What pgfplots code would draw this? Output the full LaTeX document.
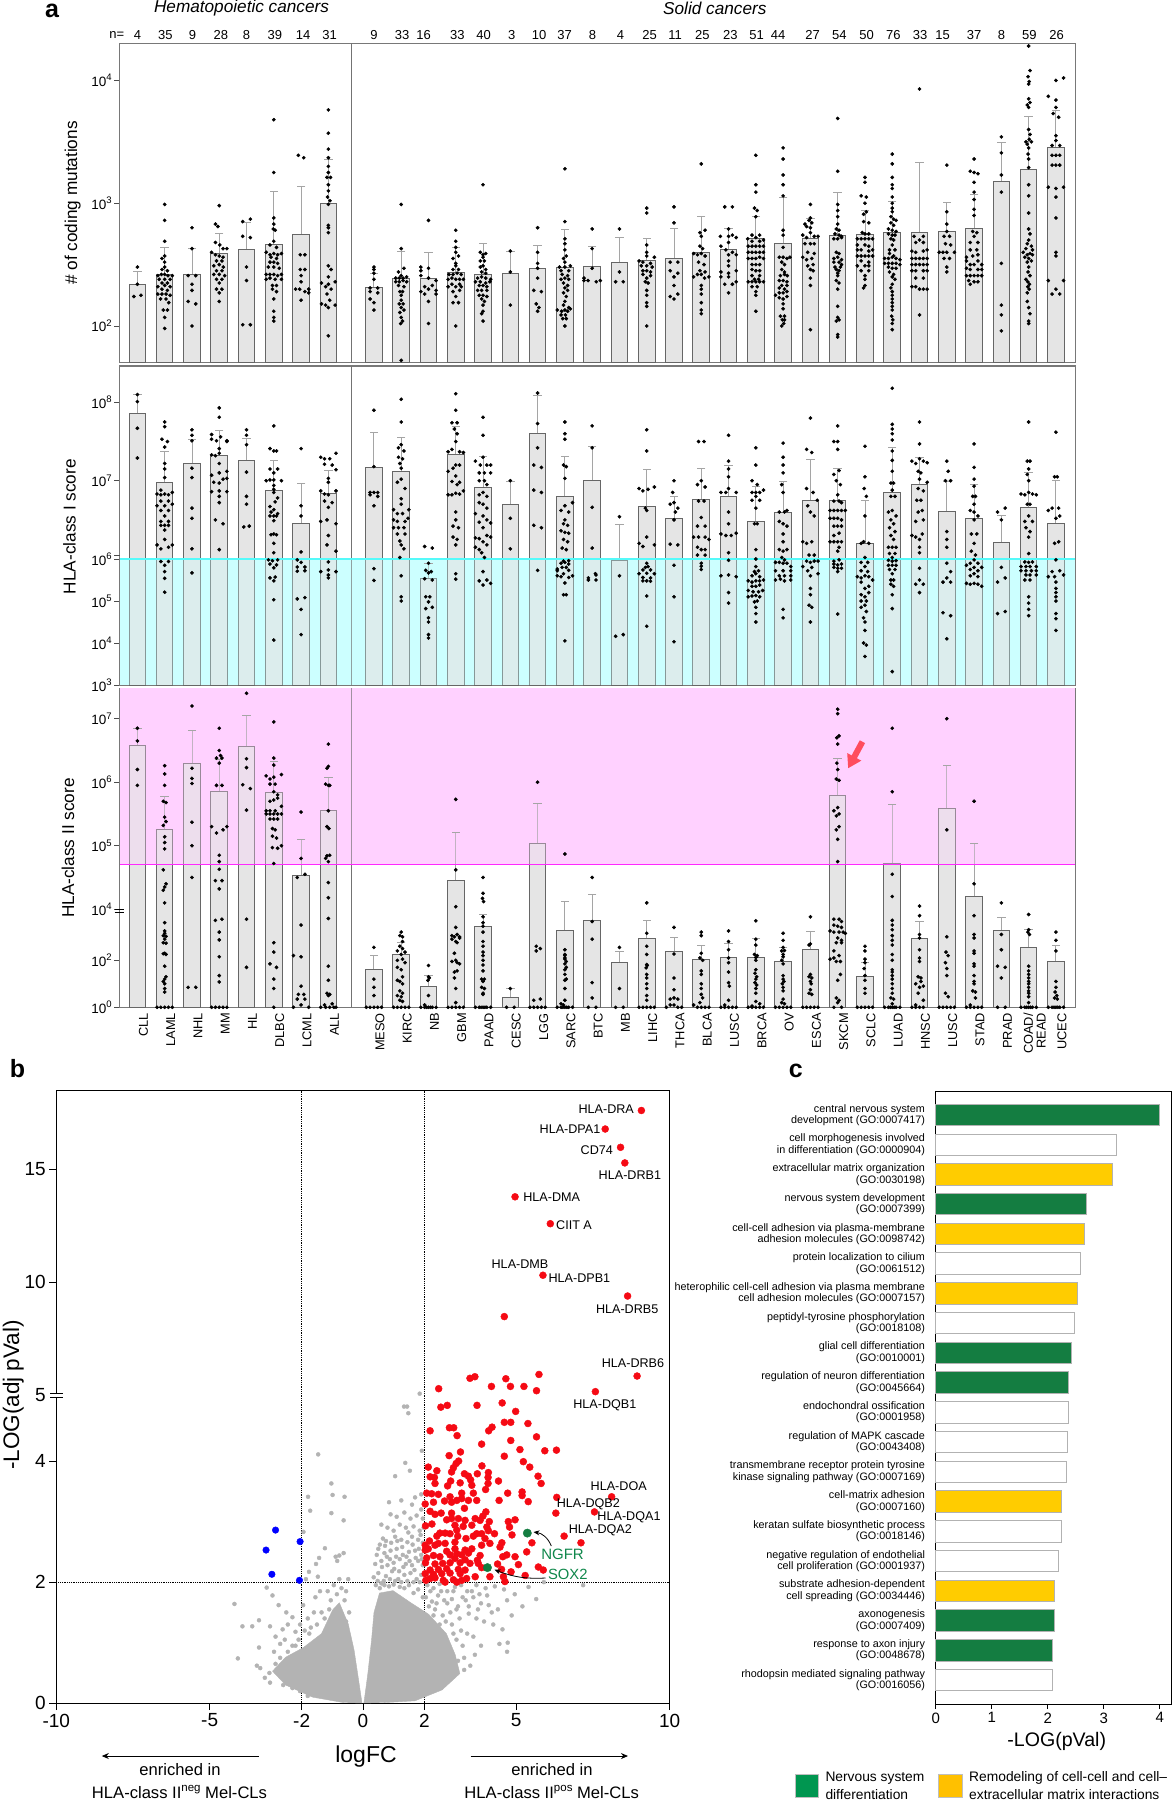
\documentclass[border=0pt]{standalone}
\usepackage{fontspec}
\setmainfont{Liberation Sans}
\usepackage{pgfplots}
\usepackage{pgfplotstable}
\pgfplotsset{compat=1.18}
\usetikzlibrary{arrows.meta}
\definecolor{barg}{RGB}{229,229,229}
\definecolor{errc}{RGB}{165,165,165}
\definecolor{frm}{RGB}{120,120,120}
\definecolor{cyov}{rgb}{.8,1,1}
\definecolor{maov}{rgb}{1,.82,1}
\definecolor{cyln}{RGB}{85,250,250}
\definecolor{maln}{RGB}{255,40,255}
\definecolor{volg}{RGB}{179,179,179}
\definecolor{gogr}{RGB}{20,125,65}
\definecolor{goye}{RGB}{255,204,0}
\definecolor{redd}{RGB}{245,10,20}
\definecolor{grlab}{RGB}{15,135,75}
\newcommand\fT[1]{122.8*(#1-1.701)}
\newcommand\fM[1]{(#1<6.001?42*(#1-3):126+78.3*(#1-6))}
\newcommand\fB[1]{(#1<4?23.5*#1:161.6+63.5*(#1-5))}
\newcommand\fV[1]{(#1<5.01?60.54*#1:308.2+22.6*(#1-5))}
\newcommand\BX{\thisrowno{0}-(\thisrowno{0}>8.5)*.33}
\newcommand\T[4]{\node[inner sep=0pt,font=\fontsize{#3}{#3}\selectfont] at (#1pt,-#2pt) {#4};}
\newcommand\TL[4]{\node[inner sep=0pt,anchor=west,font=\fontsize{#3}{#3}\selectfont] at (#1pt,-#2pt) {#4};}
\newcommand\TR[4]{\node[inner sep=0pt,rotate=90,font=\fontsize{#3}{#3}\selectfont] at (#1pt,-#2pt) {#4};}
\newcommand\pw[1]{10\raisebox{.42em}{\fontsize{9.5}{9.5}\selectfont #1}}
\pgfplotsset{table/header=false,
 table/S/.style={x expr={#1+\thisrowno{0}-(#1>8.5)*.33}},
 dt/.style={only marks,mark=*,mark size=1.65pt,black},
 panel/.style={scale only axis,width=955.6pt,xmin=-.645,xmax=34.384,clip=false,ymin=0,
  axis line style={draw=frm,line width=1.1pt},xtick=\empty,ytick pos=left,tick align=outside,
  major tick length=5.7pt,tick style={black!70,line width=.7pt},
  yticklabel style={font=\fontsize{13.5}{13.5}\selectfont,xshift=1pt}},
 stem/.style={ycomb,errc,line width=.9pt},
 cap/.style={only marks,mark=-,mark size=4.2pt,errc,mark options={line width=.9pt,draw=errc}},
 bar/.style={ybar,bar shift=0pt,bar width=16.6pt,fill=barg,draw=black!60,line width=1pt}}
\pgfplotstableread{
0 2.338 2.444
1 2.417 2.639
2 2.422 2.631
3 2.590 2.753
4 2.623 2.84
5 2.664 3.092
6 2.745 3.136
7 3.0 3.355
9 2.313 2.427
10 2.387 2.604
11 2.389 2.598
12 2.433 2.64
13 2.422 2.669
14 2.43 2.604
15 2.471 2.658
16 2.476 2.783
17 2.487 2.647
18 2.517 2.72
19 2.536 2.712
20 2.55 2.791
21 2.598 2.891
22 2.626 2.791
23 2.715 2.891
24 2.674 3.046
25 2.712 2.875
26 2.739 3.084
27 2.748 2.938
28 2.758 3.011
29 2.758 3.331
30 2.769 3.005
31 2.794 3.07
32 3.174 3.494
33 3.277 3.703
34 3.453 3.757
}\tabT
\pgfplotstableread{
0 7.864 8.098
1 6.979 7.37
2 7.217 7.528
3 7.323 7.638
4 7.255 7.54
5 6.872 7.264
6 6.451 6.97
7 6.843 7.132
9 7.174 7.613
10 7.115 7.557
11 5.532 5.897
12 7.332 7.694
13 6.911 7.315
14 6.694 6.991
15 7.6 8.085
16 6.804 7.311
17 7.0 7.443
18 5.96 6.443
19 6.668 7.14
20 6.523 6.804
21 6.757 7.157
22 6.8 7.196
23 6.481 6.93
24 6.591 6.991
25 6.749 7.272
26 6.749 7.157
27 6.196 6.753
28 6.851 7.426
29 6.949 7.294
30 6.604 6.987
31 6.511 6.949
32 6.213 6.553
33 6.655 7.106
34 6.451 7.009
}\tabM
\pgfplotstableread{
0 6.58 6.848
1 5.252 5.772
2 6.291 6.816
3 5.85 6.365
4 6.559 7.058
5 5.845 6.328
6 4.538 5.105
7 5.551 6.071
9 1.617 2.213
10 2.227 2.766
11 .894 1.376
12 4.454 5.21
13 3.426 3.957
14 .426 .809
15 5.037 5.661
16 3.277 4.123
17 3.702 4.239
18 1.915 2.397
19 2.936 3.702
20 2.355 2.979
21 2.043 2.638
22 2.113 2.723
23 2.128 2.922
24 1.929 2.553
25 2.454 3.22
26 5.798 6.375
27 1.305 1.9
28 4.717 5.646
29 2.936 3.645
30 5.588 6.27
31 4.207 5.037
32 3.262 3.816
33 2.539 3.305
34 1.957 2.652
}\tabB
\begin{document}
\begin{tikzpicture}
\useasboundingbox (0pt,0pt) rectangle (1172pt,-1800pt);
% ---------- panel a, top
\begin{axis}[panel,at={(119.8pt,-362.7pt)},anchor=south west,height=319.4pt,ymax=319.4,
 ytick={36.8,159.6,282.4},yticklabels={\pw{2},\pw{3},\pw{4}},table/y expr={\fT{\thisrowno{1}}}]
\addplot[stem] table[x expr=\BX,y expr=\fT{\thisrowno{2}}]\tabT;
\addplot[cap] table[x expr=\BX,y expr=\fT{\thisrowno{2}}]\tabT;
\addplot[bar] table[x expr=\BX,y expr=\fT{\thisrowno{1}}]\tabT;
\addplot[black!55,line width=.8pt] coordinates {(7.84,0)(7.84,319.4)};
\addplot[dt] table[S=0]{
0 2.48
0 2.34
-.13 2.24
.13 2.25
};
\addplot[dt] table[S=1]{
0 2.99
0 2.86
0 2.69
0 2.57
-.1 2.55
0 2.52
0 2.48
-.1 2.46
.1 2.45
-.25 2.41
-.12 2.42
0 2.42
.12 2.41
.28 2.41
-.2 2.38
0 2.38
.2 2.38
-.1 2.35
.1 2.35
-.25 2.32
0 2.33
.2 2.32
-.1 2.30
.1 2.29
-.25 2.26
-.1 2.26
.05 2.26
.2 2.25
-.15 2.22
.05 2.22
.15 2.19
-.05 2.13
.1 2.13
0 2.07
0 1.98
};
\addplot[dt] table[S=2]{
0 2.80
0 2.63
-.14 2.41
.14 2.41
0 2.34
0 2.29
-.14 2.2
.14 2.18
0 2.0
};
\addplot[dt] table[S=3]{
0 2.98
-.14 2.83
-.05 2.81
-.14 2.68
.02 2.66
.14 2.63
.28 2.63
-.28 2.6
-.14 2.58
0 2.57
.14 2.56
-.1 2.53
.1 2.53
-.2 2.49
0 2.5
.15 2.48
-.1 2.45
.1 2.45
-.2 2.42
0 2.42
.2 2.41
-.1 2.38
.1 2.38
0 2.35
-.1 2.3
.1 2.3
0 2.27
0 2.2
};
\addplot[dt] table[S=4]{
-.14 2.85
.14 2.87
-.14 2.73
.14 2.72
0 2.48
0 2.37
-.14 2.01
.14 2.01
};
\addplot[dt] table[S=5]{
0 3.68
0 3.25
0 2.88
.0 2.83
-.02 2.79
.05 2.78
0 2.69
-.14 2.66
.1 2.64
-.28 2.6
-.14 2.58
0 2.59
.14 2.58
.28 2.59
-.1 2.56
.1 2.55
-.14 2.52
0 2.52
.14 2.51
-.2 2.48
0 2.48
.2 2.47
-.28 2.42
-.14 2.42
0 2.42
.14 2.41
.28 2.42
-.28 2.38
-.14 2.39
.05 2.38
.28 2.38
-.05 2.33
.1 2.33
-.05 2.3
.1 2.28
0 2.22
0 2.12
0 2.07
0 2.04
};
\addplot[dt] table[S=6]{
-.1 3.39
.1 3.37
-.03 2.58
.14 2.58
-.03 2.46
.14 2.46
0 2.41
.0 2.36
-.2 2.3
-.05 2.3
.14 2.28
.28 2.3
.28 2.27
0 2.21
};
\addplot[dt] table[S=7]{
0 3.76
0 3.57
0 3.44
0 3.37
0 3.3
0 3.25
-.05 3.21
.08 3.21
0 3.15
0 3.1
-.03 3.05
.06 3.02
0 2.99
0 2.82
0 2.8
0 2.76
0 2.49
.1 2.46
0 2.4
-.25 2.35
0 2.34
.25 2.36
-.1 2.32
.1 2.3
-.05 2.26
.05 2.21
-.25 2.18
-.1 2.17
0 2.15
.25 2.17
0 1.92
};
\addplot[dt] table[S=9]{
0 2.48
0 2.46
0 2.43
0 2.38
-.14 2.31
.14 2.31
-.14 2.28
.14 2.27
-.14 2.22
.0 2.19
0 2.13
};
\addplot[dt] table[S=10]{
0 2.99
0 2.63
.1 2.47
-.1 2.44
0 2.41
-.2 2.39
-.07 2.39
.07 2.39
.2 2.40
-.2 2.36
-.07 2.36
.07 2.37
.2 2.36
-.1 2.33
.1 2.32
-.05 2.28
.05 2.28
0 2.25
0 2.21
-.07 2.18
.07 2.18
0 2.15
.1 2.13
-.05 2.11
0 2.07
.05 2.04
-.02 2.02
0 1.72
};
\addplot[dt] table[S=11]{
0 2.86
-.28 2.48
-.28 2.45
0 2.47
-.28 2.41
0 2.39
.28 2.37
-.14 2.32
.14 2.33
.28 2.29
-.28 2.28
0 2.3
-.14 2.26
.28 2.26
0 2.2
0 2.02
};
\addplot[dt] table[S=12]{
0 2.78
0 2.69
0 2.64
0 2.6
.1 2.57
-.1 2.55
0 2.51
0 2.49
-.1 2.46
.1 2.46
-.25 2.42
-.1 2.42
.05 2.43
.2 2.42
-.28 2.38
-.14 2.39
0 2.38
.14 2.38
.28 2.38
-.14 2.34
.14 2.34
-.28 2.32
0 2.32
.2 2.32
-.1 2.28
.14 2.29
0 2.24
-.1 2.19
.1 2.19
0 2.0
};
\addplot[dt] table[S=13]{
0 3.15
-.1 2.6
0 2.58
.1 2.59
0 2.56
-.1 2.53
.05 2.53
0 2.49
-.1 2.48
.1 2.46
-.05 2.44
.1 2.43
-.2 2.39
-.05 2.4
.1 2.39
.28 2.38
-.28 2.36
-.1 2.36
.1 2.35
.25 2.36
-.14 2.33
0 2.33
.14 2.32
-.2 2.29
-.05 2.29
.14 2.29
-.14 2.25
0 2.25
.14 2.24
-.05 2.22
.05 2.2
0 2.17
0 2.12
-.05 2.1
0 2.04
};
\addplot[dt] table[S=14]{
0 2.61
0 2.44
0 2.17
};
\addplot[dt] table[S=15]{
0 2.8
0 2.6
0 2.51
0 2.47
0 2.39
-.14 2.29
.14 2.28
-.05 2.18
.05 2.15
0 2.12
};
\addplot[dt] table[S=16]{
0 3.28
0 2.85
0 2.71
0 2.67
0 2.62
.05 2.57
-.05 2.55
0 2.52
-.2 2.48
0 2.48
.2 2.49
-.14 2.45
.14 2.45
-.1 2.42
.1 2.41
-.14 2.38
0 2.39
.14 2.38
-.05 2.35
.1 2.33
0 2.31
.1 2.29
-.05 2.27
.05 2.24
.0 2.2
-.05 2.17
.14 2.15
-.28 2.13
-.12 2.12
0 2.13
.1 2.12
.2 2.14
-.14 2.09
.02 2.09
-.08 2.06
.05 2.06
0 2.0
};
\addplot[dt] table[S=17]{
0 2.79
0 2.63
0 2.47
-.3 2.39
-.3 2.37
-.15 2.37
.15 2.36
.3 2.37
};
\addplot[dt] table[S=18]{
0 2.79
0 2.44
-.14 2.36
.14 2.36
};
\addplot[dt] table[S=19]{
0 2.96
0 2.92
0 2.66
0 2.6
0 2.57
-.28 2.53
-.14 2.52
.14 2.51
.28 2.56
-.2 2.49
0 2.49
.2 2.48
-.14 2.45
0 2.45
.14 2.44
-.14 2.42
.14 2.41
0 2.39
-.05 2.36
.05 2.35
0 2.29
0 2.25
0 2.19
0 2.16
0 2.0
};
\addplot[dt] table[S=20]{
0 2.97
0 2.84
-.14 2.52
.14 2.52
-.14 2.45
.0 2.4
.14 2.43
0 2.33
-.14 2.24
.14 2.26
0 2.22
};
\addplot[dt] table[S=21]{
0 3.32
-.05 2.76
.14 2.78
0 2.73
-.05 2.65
.05 2.63
-.28 2.59
-.14 2.58
0 2.59
.14 2.57
-.1 2.52
.1 2.5
-.05 2.45
.14 2.44
-.28 2.4
-.14 2.42
0 2.42
.28 2.4
.12 2.39
0 2.33
0 2.3
0 2.26
0 2.19
0 2.13
0 2.1
};
\addplot[dt] table[S=22]{
-.14 2.97
.14 2.97
0 2.79
.14 2.74
-.3 2.73
0 2.73
.28 2.72
0 2.68
-.28 2.65
-.1 2.62
.14 2.6
0 2.58
.28 2.58
0 2.53
0 2.49
-.28 2.44
0 2.43
.28 2.45
-.28 2.4
.28 2.36
0 2.4
-.14 2.34
.14 2.34
0 2.27
};
\addplot[dt] table[S=23]{
0 3.39
0 3.15
0 3.09
-.05 2.96
.05 2.94
0 2.89
-.14 2.74
0 2.72
.14 2.74
-.3 2.71
-.14 2.69
.14 2.69
.28 2.7
-.28 2.65
-.14 2.65
0 2.65
.14 2.65
.28 2.65
-.28 2.6
-.14 2.6
0 2.6
.14 2.6
.28 2.6
-.28 2.55
-.14 2.55
0 2.55
.14 2.56
.28 2.55
-.14 2.5
0 2.5
.14 2.5
-.14 2.46
0 2.45
.14 2.45
-.14 2.41
.14 2.41
-.05 2.38
.1 2.38
-.28 2.36
-.14 2.36
0 2.36
.14 2.36
.28 2.36
-.14 2.32
.05 2.32
0 2.28
0 2.25
0 2.12
};
\addplot[dt] table[S=24]{
0 3.45
0 3.36
0 3.23
0 3.15
0 3.06
0 2.78
0 2.74
0 2.64
-.14 2.56
0 2.56
.14 2.55
.25 2.56
-.05 2.52
.05 2.5
-.05 2.46
.05 2.44
-.1 2.41
.05 2.42
.15 2.41
-.14 2.37
0 2.37
.14 2.36
-.05 2.33
.14 2.33
-.14 2.31
.05 2.3
-.14 2.27
0 2.27
.14 2.28
-.28 2.25
-.14 2.23
0 2.22
.14 2.24
0 2.18
0 2.14
.05 2.08
-.1 2.08
-.03 2.05
.05 2.05
.02 2.02
-.05 2.0
};
\addplot[dt] table[S=25]{
0 2.99
0 2.88
-.05 2.86
.05 2.84
-.2 2.83
-.14 2.81
0 2.8
.0 2.76
-.28 2.74
-.14 2.72
.14 2.73
.28 2.73
-.2 2.67
0 2.67
.14 2.67
-.1 2.6
.14 2.59
-.28 2.56
-.14 2.54
.05 2.55
.1 2.5
-.1 2.49
0 2.46
.1 2.45
0 2.39
0 2.33
0 1.97
};
\addplot[dt] table[S=26]{
0 3.69
0 3.26
0 2.99
0 2.94
0 2.89
0 2.83
-.05 2.79
.05 2.78
-.1 2.75
.05 2.74
.14 2.73
-.14 2.71
0 2.71
.14 2.72
-.05 2.6
.05 2.59
-.14 2.55
0 2.56
.14 2.54
-.14 2.52
.05 2.52
.14 2.5
-.1 2.48
.1 2.48
-.05 2.46
.05 2.45
0 2.43
0 2.41
-.05 2.37
.05 2.35
0 2.3
0 2.16
0 2.07
.05 2.05
-.05 2.04
0 1.93
0 1.91
};
\addplot[dt] table[S=27]{
0 3.21
0 3.17
-.14 3.06
.05 3.05
0 3.0
.05 2.93
-.05 2.91
-.05 2.85
.14 2.84
-.1 2.76
0 2.75
.14 2.75
-.28 2.71
-.14 2.71
0 2.71
.14 2.71
.28 2.71
-.28 2.66
0 2.66
.14 2.65
-.28 2.62
-.14 2.62
.14 2.61
.28 2.62
-.28 2.57
-.14 2.57
0 2.57
.14 2.57
.28 2.57
-.14 2.53
.14 2.52
-.28 2.49
0 2.49
.14 2.49
-.14 2.45
.14 2.45
0 2.41
0 2.38
.0 2.33
-.05 2.31
};
\addplot[dt] table[S=28]{
0 3.4
0 3.32
0 3.21
0 3.15
0 3.12
0 3.05
0 3.0
0 2.96
0 2.93
-.05 2.89
.05 2.87
.14 2.86
-.05 2.84
.05 2.82
-.14 2.79
.0 2.78
.14 2.77
-.14 2.75
0 2.74
.1 2.74
-.05 2.71
.05 2.7
0 2.66
-.1 2.62
.1 2.62
-.1 2.59
.05 2.57
-.28 2.55
-.14 2.55
0 2.56
.14 2.55
.28 2.54
-.28 2.51
-.14 2.51
0 2.51
.14 2.51
.28 2.5
-.14 2.48
0 2.47
.14 2.47
-.1 2.44
.05 2.42
0 2.4
.1 2.38
0 2.34
-.05 2.31
0 2.28
0 2.25
0 2.22
0 2.19
0 2.16
0 2.13
-.02 2.08
.02 2.05
0 2.02
0 1.97
};
\addplot[dt] table[S=29]{
0 3.93
-.2 2.73
0 2.7
.14 2.73
-.14 2.68
.14 2.68
-.28 2.61
-.14 2.6
.14 2.61
.28 2.62
-.28 2.55
-.14 2.55
0 2.55
.14 2.55
.28 2.55
-.28 2.5
-.14 2.5
0 2.5
.14 2.5
.28 2.5
-.28 2.45
-.14 2.45
.14 2.45
.28 2.45
-.14 2.39
.14 2.39
-.28 2.32
-.14 2.32
0 2.3
.14 2.3
.28 2.3
0 2.09
};
\addplot[dt] table[S=30]{
0 3.31
0 2.93
0 2.83
0 2.77
-.1 2.73
.1 2.73
-.05 2.67
.14 2.66
-.28 2.6
-.14 2.6
0 2.6
.28 2.6
-.1 2.55
.1 2.55
0 2.48
0 2.44
};
\addplot[dt] table[S=31]{
0 3.36
-.14 3.26
0 3.25
.14 3.24
0 3.17
0 3.09
0 3.03
0 2.95
0 2.9
-.05 2.77
.1 2.76
0 2.73
-.14 2.68
.14 2.68
-.14 2.62
.1 2.62
-.28 2.56
-.05 2.57
.14 2.58
-.28 2.53
-.14 2.5
.0 2.5
.14 2.53
.28 2.5
-.28 2.47
-.14 2.46
.14 2.46
.28 2.46
-.28 2.41
-.14 2.41
0 2.41
.14 2.41
.28 2.41
-.2 2.37
0 2.36
.14 2.36
-.14 2.34
};
\addplot[dt] table[S=32]{
0 3.54
0 3.41
0 3.23
0 3.09
0 2.51
0 2.17
0 2.09
0 1.96
};
\addplot[dt] table[S=33]{
0 4.28
.05 4.08
-.02 4.03
.02 3.99
0 3.97
0 3.85
.05 3.82
-.05 3.8
0 3.78
.0 3.6
.05 3.56
.02 3.52
-.1 3.5
.1 3.5
-.05 3.48
0 3.45
-.02 3.4
0 3.36
0 3.29
0 3.15
0 3.06
0 2.92
.0 2.79
.05 2.75
0 2.7
-.05 2.67
.1 2.65
-.1 2.63
.14 2.62
-.2 2.6
.05 2.59
-.05 2.58
.14 2.58
-.14 2.56
0 2.55
.1 2.53
-.05 2.52
0 2.48
-.02 2.44
.05 2.41
-.1 2.38
-.03 2.36
.03 2.34
-.03 2.32
.02 2.3
-.05 2.27
-.05 2.2
0 2.15
.05 2.1
0 2.04
.0 2.02
};
\addplot[dt] table[S=34]{
.28 4.02
0 4.0
-.28 3.87
0 3.84
0 3.78
-.1 3.73
.1 3.7
0 3.55
0 3.51
-.14 3.47
.14 3.47
-.14 3.39
0 3.39
.14 3.39
-.14 3.31
0 3.31
.14 3.31
-.28 3.13
0 3.12
.28 3.13
0 3.05
0 2.88
0 2.6
.0 2.57
-.28 2.37
.28 2.37
.0 2.3
-.14 2.26
.14 2.26
};
\end{axis}
% ---------- panel a, middle
\begin{axis}[panel,at={(119.8pt,-685pt)},anchor=south west,height=319pt,ymax=319,
 ytick={0,42,84,126,204.3,282.6},yticklabels={\pw{3},\pw{4},\pw{5},\pw{6},\pw{7},\pw{8}},table/y expr={\fM{\thisrowno{1}}}]
\addplot[fill=cyov,draw=none] coordinates {(-.645,0)(34.384,0)(34.384,126)(-.645,126)};
\addplot[stem] table[x expr=\BX,y expr=\fM{\thisrowno{2}}]\tabM;
\addplot[cap] table[x expr=\BX,y expr=\fM{\thisrowno{2}}]\tabM;
\addplot[bar] table[x expr=\BX,y expr=\fM{\thisrowno{1}}]\tabM;
\addplot[black!55,line width=.8pt] coordinates {(7.84,0)(7.84,319)};
\addplot[dt] table[S=0]{
0 8.10
0 8.01
0 7.67
0 7.29
};
\addplot[dt] table[S=1]{
0 7.75
0 7.69
-.1 7.53
.1 7.5
0 7.43
0 7.22
0 7.15
0 7.04
-.14 6.88
-.28 6.83
-.14 6.82
0 6.83
.14 6.82
.28 6.85
-.14 6.74
.14 6.74
-.28 6.68
0 6.68
.28 6.7
-.14 6.62
.14 6.62
0 6.55
-.14 6.48
.14 6.48
-.14 6.43
0 6.43
.14 6.43
0 6.37
-.28 6.18
-.14 6.13
.14 6.15
0 6.25
.28 6.18
-.14 5.94
.14 5.94
0 5.85
0 5.7
0 5.54
0 5.21
};
\addplot[dt] table[S=2]{
0 7.65
0 7.58
0 7.51
0 7.16
0 7.04
0 6.65
0 6.52
0 6.13
0 5.67
};
\addplot[dt] table[S=3]{
0 7.93
0 7.81
-.28 7.59
.05 7.56
-.28 7.53
-.1 7.51
.28 7.51
0 7.41
0 7.35
.28 7.5
-.28 7.33
-.14 7.32
.28 7.12
-.28 7.07
0 7.22
0 7.1
.14 7.02
-.2 6.98
0 6.97
.28 7.03
-.28 6.86
0 6.87
.28 6.86
0 6.8
0 6.72
-.14 6.5
.14 6.45
0 6.12
};
\addplot[dt] table[S=4]{
0 7.65
0 7.58
0 7.46
0 7.11
0 6.8
0 6.7
-.1 6.41
.1 6.42
};
\addplot[dt] table[S=5]{
0 7.7
-.14 7.41
0 7.38
.1 7.38
.14 7.15
-.14 7.15
0 7.1
-.28 7.0
-.14 7.01
0 7.01
.28 7.0
0 6.94
0 6.89
0 6.85
.14 6.78
.05 6.73
-.14 6.67
0 6.63
-.1 6.6
.14 6.58
-.14 6.55
0 6.55
.1 6.55
0 6.49
0 6.32
-.1 6.31
.1 6.31
0 6.2
0 6.08
-.2 5.98
-.05 5.96
.14 5.98
-.14 5.88
.1 5.86
0 5.79
-.14 5.55
.05 5.57
0 5.48
0 5.03
0 4.07
};
\addplot[dt] table[S=6]{
0 7.41
0 6.68
0 6.55
0 6.09
-.14 5.98
0 5.92
-.14 5.81
.14 5.81
-.14 5.71
.14 5.72
-.14 5.05
.14 5.08
0 4.8
0 4.2
};
\addplot[dt] table[S=7]{
-.28 7.3
.28 7.35
-.14 7.28
.05 7.28
-.14 7.21
.14 7.2
.28 7.14
0 7.03
0 6.98
-.28 6.87
-.14 6.83
0 6.82
.28 6.87
-.14 6.74
.14 6.72
0 6.66
-.28 6.48
-.05 6.5
.28 6.45
0 6.3
-.05 6.18
.28 6.1
0 5.93
-.28 5.7
0 5.74
.28 5.7
0 5.62
0 5.55
};
\addplot[dt] table[S=9]{
0 7.9
0 7.18
-.14 6.85
0 6.85
.14 6.85
-.14 6.82
.14 6.8
0 6.68
0 5.77
0 5.49
};
\addplot[dt] table[S=10]{
0 8.04
0 7.75
.0 7.46
-.1 7.42
.1 7.38
-.1 7.3
.05 7.28
-.05 7.22
0 7.16
0 7.02
-.14 6.98
.14 6.9
0 6.77
0 6.7
-.28 6.63
.28 6.63
-.14 6.58
.05 6.58
.25 6.52
-.28 6.5
-.14 6.48
.14 6.48
-.28 6.4
-.1 6.4
.1 6.4
-.14 6.32
.14 6.32
-.05 6.23
.1 6.13
0 6.18
-.05 6.02
0 5.6
0 5.1
0 5.0
};
\addplot[dt] table[S=11]{
-.14 6.16
.14 6.14
0 5.9
-.1 5.73
.1 5.7
0 5.67
-.14 5.53
.14 5.5
-.1 5.1
.05 5.1
0 4.98
.14 4.85
-.1 4.82
0 4.6
0 4.5
0 4.2
0 4.12
};
\addplot[dt] table[S=12]{
0 8.11
0 7.9
-.14 7.74
.05 7.74
-.05 7.66
.05 7.6
-.28 7.37
-.14 7.4
.14 7.37
.28 7.36
0 7.5
0 7.2
-.28 7.12
-.1 7.16
.14 7.2
0 7.06
-.14 6.99
.14 6.98
.05 6.95
-.28 6.82
-.14 6.82
0 6.84
.14 6.83
.28 6.87
0 6.6
0 6.5
-.1 6.42
.1 6.4
-.1 6.28
.05 6.25
0 6.18
0 5.65
0 5.52
};
\addplot[dt] table[S=13]{
0 7.81
0 7.58
0 7.3
-.28 7.25
-.1 7.2
.14 7.2
.28 7.2
-.14 7.1
.05 7.1
.28 7.1
-.14 7.0
.05 7.0
.14 6.95
.0 6.85
-.14 6.82
.14 6.8
-.14 6.72
0 6.7
.14 6.65
-.28 6.58
0 6.55
.14 6.5
-.14 6.47
.28 6.46
0 6.4
-.28 6.27
-.14 6.26
.14 6.3
.28 6.28
0 6.22
-.28 6.15
-.14 6.12
.14 6.18
-.05 6.08
.05 6.02
0 5.7
-.14 5.48
.14 5.5
0 5.38
.28 5.42
};
\addplot[dt] table[S=14]{
0 7.0
0 6.52
0 6.13
};
\addplot[dt] table[S=15]{
0 8.12
0 7.73
0 7.42
-.14 7.2
.14 7.17
-.14 6.88
.14 6.85
-.14 6.43
.14 6.4
0 5.73
};
\addplot[dt] table[S=16]{
0 7.75
0 7.6
0 7.53
-.05 7.2
.05 7.18
0 7.03
.28 6.72
0 6.68
-.14 6.62
.14 6.6
0 6.5
-.05 6.45
.1 6.43
-.14 6.36
0 6.34
.14 6.33
-.05 6.25
.1 6.22
-.1 6.14
.05 6.12
-.05 5.95
.14 5.96
-.14 5.9
0 5.92
.14 5.88
-.28 5.76
-.1 5.8
.05 5.8
.14 5.73
-.28 5.72
-.05 5.65
-.28 5.6
-.14 5.58
.14 5.56
.28 5.6
0 5.43
-.05 5.15
.05 5.15
0 4.05
};
\addplot[dt] table[S=17]{
0 7.7
0 7.42
0 6.66
0 6.14
.12 5.65
-.14 5.55
.14 5.62
-.14 5.5
.14 5.5
};
\addplot[dt] table[S=18]{
0 6.54
0 5.6
-.14 4.16
.14 4.2
};
\addplot[dt] table[S=19]{
0 7.65
0 7.38
-.28 6.9
-.14 6.87
.05 6.89
.28 6.92
-.05 6.65
.0 6.62
-.28 6.2
-.14 6.16
.28 6.18
.0 6.28
.0 5.9
-.05 5.8
.05 5.82
-.14 5.74
.14 5.74
-.28 5.65
0 5.66
.28 5.65
-.14 5.56
.14 5.55
-.14 5.48
0 5.48
.14 5.47
0 5.12
0 4.4
};
\addplot[dt] table[S=20]{
0 7.0
-.05 6.85
.0 6.72
-.14 6.7
.14 6.65
.05 6.6
0 6.5
-.14 6.19
.14 6.18
0 5.85
0 5.1
0 4.03
};
\addplot[dt] table[S=21]{
-.1 7.5
.1 7.5
.0 7.0
-.14 6.95
.14 6.92
-.1 6.74
.1 6.74
0 6.53
-.14 6.42
.14 6.42
-.28 6.28
-.1 6.28
.14 6.28
.28 6.25
-.14 6.15
0 6.12
.14 6.12
-.14 6.05
.14 6.05
0 5.9
0 5.83
0 5.75
};
\addplot[dt] table[S=22]{
0 7.58
0 7.25
0 7.15
0 7.05
-.28 6.85
-.1 6.85
.28 6.85
0 6.9
0 6.6
0 6.45
-.28 6.32
-.1 6.3
.1 6.3
.28 6.33
0 6.08
.0 5.97
-.28 5.6
0 5.62
.28 5.58
0 5.2
0 4.95
};
\addplot[dt] table[S=23]{
0 7.42
0 7.2
-.14 7.0
.05 6.95
-.14 6.85
0 6.85
.14 6.85
.28 6.88
-.14 6.75
0 6.8
.14 6.75
0 6.65
-.05 6.45
.05 6.45
0 6.12
0 6.0
0 5.82
-.05 5.7
.1 5.72
0 5.65
-.14 5.6
.14 5.58
-.28 5.48
-.14 5.45
0 5.48
.14 5.48
.28 5.5
-.14 5.35
0 5.35
.14 5.38
-.28 5.25
-.1 5.22
.1 5.22
.25 5.25
-.28 5.1
-.14 5.12
0 5.13
.14 5.1
-.05 4.98
.05 5.0
0 4.85
0 4.7
0 4.5
};
\addplot[dt] table[S=24]{
0 7.48
0 7.3
0 7.2
0 7.1
-.05 6.95
0 6.85
-.14 6.6
.05 6.6
.14 6.62
-.14 6.48
0 6.45
.14 6.42
0 6.32
0 6.22
-.14 6.12
.0 6.1
.14 6.12
-.05 6.02
.05 5.98
-.28 5.92
-.14 5.92
0 5.9
.14 5.9
.28 5.82
-.28 5.72
0 5.72
.28 5.72
-.14 5.6
.05 5.6
.28 5.6
-.28 5.5
-.1 5.52
.05 5.48
.28 5.5
0 4.8
0 4.6
};
\addplot[dt] table[S=25]{
0 7.8
-.14 7.4
.05 7.36
-.14 6.9
.1 6.85
.25 6.75
-.1 6.68
0 6.6
.14 6.55
-.28 6.22
-.14 6.2
.05 6.22
-.05 6.05
.14 6.05
-.14 5.95
0 5.92
.14 5.95
.28 5.95
-.28 5.82
-.1 5.72
.05 5.8
.28 5.65
0 5.6
0 5.3
0 5.15
-.05 4.9
.05 4.85
0 4.5
};
\addplot[dt] table[S=26]{
0 7.7
-.14 7.5
0 7.5
0 7.4
-.14 7.08
.05 7.13
-.05 7.0
.1 6.95
0 6.82
-.14 6.74
.05 6.74
.14 6.72
-.28 6.62
-.14 6.62
0 6.62
.14 6.62
.28 6.62
-.28 6.52
-.14 6.52
0 6.52
.14 6.5
-.14 6.42
0 6.42
.14 6.42
.05 6.33
-.14 6.3
-.28 6.22
-.14 6.22
0 6.22
.14 6.22
.05 6.15
0 6.1
-.14 5.95
.05 5.98
-.14 5.88
0 5.86
.14 5.88
-.14 5.8
0 5.78
.14 5.78
0 5.7
0 4.69
};
\addplot[dt] table[S=27]{
0 7.44
0 7.05
-.03 6.9
.05 6.8
0 6.55
-.14 6.2
-.05 6.22
.14 6.2
.0 6.02
-.14 5.92
.1 5.92
0 5.82
-.14 5.72
.1 5.7
-.28 5.58
-.14 5.55
0 5.6
.14 5.58
.28 5.5
-.14 5.45
0 5.3
.14 5.35
-.14 5.15
0 5.1
.14 5.2
-.14 5.0
.05 5.0
-.14 4.85
0 4.9
.05 4.75
-.05 4.6
0 4.5
0 4.3
-.05 4.0
.05 3.95
0 3.68
};
\addplot[dt] table[S=28]{
0 8.18
0 7.72
0 7.66
0 7.6
0 7.52
0 7.38
0 7.26
0 7.12
-.05 6.97
.05 6.97
.0 6.88
-.05 6.8
.1 6.8
0 6.62
-.14 6.6
.14 6.55
-.05 6.5
.05 6.45
-.1 6.4
.1 6.35
-.05 6.3
.05 6.25
-.14 6.15
0 6.15
.14 6.15
-.1 6.07
.1 6.07
0 6.02
-.14 5.97
0 5.95
.14 5.96
-.14 5.85
0 5.85
.14 5.85
-.1 5.75
.1 5.75
0 5.65
-.05 5.5
.05 5.5
-.05 5.4
.05 5.35
0 5.15
0 4.82
0 3.32
};
\addplot[dt] table[S=29]{
0 7.75
0 7.47
-.28 7.25
-.14 7.22
0 7.28
.14 7.25
.28 7.23
-.05 7.12
.05 7.1
0 7.02
.28 6.98
-.05 6.9
.14 6.87
-.1 6.75
.05 6.75
.1 6.62
-.05 6.6
.14 6.5
-.14 6.48
-.28 6.3
-.14 6.28
0 6.25
.1 6.32
0 6.15
0 6.08
0 5.78
0 5.5
-.14 5.4
.14 5.4
0 5.2
};
\addplot[dt] table[S=30]{
0 7.25
.05 7.12
-.05 7.0
.14 7.0
0 6.35
0 6.25
0 6.15
0 5.9
.14 5.7
-.14 5.45
.0 5.55
.14 5.45
-.14 4.72
.14 4.65
0 4.1
};
\addplot[dt] table[S=31]{
0 7.47
0 7.17
0 7.02
0 6.93
-.05 6.8
.05 6.8
0 6.7
-.14 6.62
0 6.6
.14 6.55
0 6.5
-.1 6.32
.1 6.32
0 6.2
-.1 6.1
.05 6.05
0 5.98
-.14 5.9
.14 5.9
-.28 5.85
0 5.8
.28 5.8
-.14 5.75
.14 5.72
0 5.65
-.14 5.6
.14 5.58
-.28 5.42
-.14 5.4
0 5.42
.14 5.4
.28 5.35
};
\addplot[dt] table[S=32]{
-.14 6.6
.14 6.65
0 6.5
0 5.8
.14 5.55
-.14 5.45
-.14 4.7
.14 4.75
};
\addplot[dt] table[S=33]{
0 7.75
-.05 7.25
.05 7.25
0 7.15
-.05 7.08
0 7.0
-.28 6.83
-.14 6.82
0 6.85
.14 6.83
.28 6.82
-.05 6.7
.05 6.7
0 6.55
-.14 6.48
.14 6.48
-.1 6.4
.05 6.35
0 6.28
0 6.07
-.14 5.93
0 5.92
.14 5.93
-.28 5.82
-.1 5.82
.05 5.82
.28 5.82
-.28 5.72
-.1 5.72
.1 5.72
.28 5.72
-.1 5.62
.05 5.62
.28 5.62
-.14 5.5
.05 5.5
0 5.1
0 4.95
0 4.8
0 4.65
};
\addplot[dt] table[S=34]{
0 7.62
-.05 7.05
.05 7.05
-.28 6.62
-.14 6.65
.1 6.65
.14 6.55
0 6.52
-.05 6.2
.1 6.22
0 5.98
-.14 5.7
.14 5.72
-.28 5.58
-.05 5.58
.28 5.62
0 5.45
0 5.3
0 5.2
0 5.1
0 5.0
0 4.7
0 4.58
0 4.3
};
\addplot[fill=cyov,fill opacity=.33,draw=none] coordinates {(-.645,0)(34.384,0)(34.384,126)(-.645,126)};
\addplot[cyln,line width=2pt] coordinates {(-.645,126)(34.384,126)};
\end{axis}
% ---------- panel a, bottom
\begin{axis}[panel,at={(119.8pt,-1007.3pt)},anchor=south west,height=319pt,ymax=319,
 ytick={0,47,98.1,161.6,225.1,288.6},yticklabels={\pw{0},\pw{2},\pw{4},\pw{5},\pw{6},\pw{7}},table/y expr={\fB{\thisrowno{1}}},
 xtick={0,1,2,3,4,5,6,7,8.67,9.67,10.67,11.67,12.67,13.67,14.67,15.67,16.67,17.67,18.67,19.67,20.67,21.67,22.67,23.67,24.67,25.67,26.67,27.67,28.67,29.67,30.67,31.67,32.67,33.67},
 xticklabels={CLL,LAML,NHL,MM,HL,DLBC,LCML,ALL,MESO,KIRC,NB,GBM,PAAD,CESC,LGG,SARC,BTC,MB,LIHC,THCA,BLCA,LUSC,BRCA,OV,ESCA,SKCM,SCLC,LUAD,HNSC,LUSC,STAD,PRAD,{COAD/\\READ},UCEC},
 x tick label style={rotate=90,anchor=east,align=right,font=\fontsize{12.8}{12.8}\selectfont,inner sep=0pt,yshift=-6pt},
 xtick style={draw=none}]
\addplot[fill=maov,draw=none] coordinates {(-.645,143)(34.384,143)(34.384,319)(-.645,319)};
\addplot[stem] table[x expr=\BX,y expr=\fB{\thisrowno{2}}]\tabB;
\addplot[cap] table[x expr=\BX,y expr=\fB{\thisrowno{2}}]\tabB;
\addplot[bar] table[x expr=\BX,y expr=\fB{\thisrowno{1}}]\tabB;
\addplot[black!55,line width=.8pt] coordinates {(7.84,0)(7.84,319)};
\addplot[dt] table[S=0]{
0 6.85
0 6.65
0 6.2
0 5.95
};
\addplot[dt] table[S=1]{
0 6.26
0 6.13
0 5.95
-.05 5.7
.05 5.68
0 5.45
.05 5.38
-.05 5.32
0 5.14
0 5.05
0 4.95
-.05 4.62
.05 4.4
0 4.35
-.05 4.3
0 4.1
0 3.6
0 3.25
0 3.15
-.05 3.05
.05 3.02
0 2.9
-.05 2.75
.05 2.73
0 2.3
-.05 2.28
.05 2.25
0 1.75
.05 1.3
0 1.2
-.05 1.1
0 1.0
0 .8
0 .65
-.28 0
-.14 0
0 0
.14 0
.28 0
};
\addplot[dt] table[S=2]{
0 7.2
0 6.22
0 6.06
0 5.98
0 5.37
0 5.0
0 4.5
-.14 .85
.14 .85
};
\addplot[dt] table[S=3]{
0 6.85
0 6.5
.05 6.42
-.1 6.38
.1 6.38
0 6.3
-.1 5.95
.1 5.95
-.28 5.3
.28 5.3
.14 5.25
-.1 5.2
0 4.85
0 4.75
0 4.63
-.14 4.45
.1 4.45
0 4.32
-.14 3.7
.1 3.75
0 3.2
0 2.87
0 2.15
0 1.35
0 1.08
-.28 0
-.14 0
0 0
.14 0
.28 0
};
\addplot[dt] table[S=4]{
0 7.4
0 6.37
0 6.23
-.14 5.96
.14 5.9
0 5.56
0 3.75
0 1.7
};
\addplot[dt] table[S=5]{
0 6.95
0 6.38
0 6.27
-.28 6.1
-.14 6.05
0 6.08
.28 6.12
-.14 5.97
.05 5.97
.0 5.85
.14 5.8
0 5.72
.14 5.75
-.14 5.7
-.28 5.55
-.14 5.55
.05 5.55
.28 5.62
-.28 5.5
-.14 5.5
0 5.5
.14 5.5
.28 5.5
-.14 5.42
0 5.42
.14 5.42
-.05 5.27
.05 5.25
-.05 5.15
.1 5.12
.28 5.0
-.05 4.97
.14 4.96
0 4.72
0 2.75
0 2.35
-.14 1.85
.1 1.7
0 1.2
0 .8
0 0
};
\addplot[dt] table[S=6]{
0 5.53
0 4.8
-.14 4.5
.14 4.55
0 3.5
-.28 2.2
0 2.15
0 .9
-.1 .55
.1 .55
-.14 .35
.14 .35
0 .1
-.28 0
.28 0
};
\addplot[dt] table[S=7]{
0 6.6
-.05 6.22
0 6.25
-.1 5.97
0 5.95
.05 5.95
0 5.55
-.05 5.3
.02 5.27
-.05 4.84
.05 4.85
-.1 4.8
0 4.75
0 4.42
0 4.18
0 3.78
0 1.75
0 1.15
-.05 .6
.05 .55
.0 .5
-.14 .1
.14 .15
-.28 0
-.1 0
.05 0
.2 0
.28 0
};
\addplot[dt] table[S=9]{
0 2.55
0 1.2
0 .85
0 .5
-.28 0
-.14 0
0 0
.14 0
.28 0
};
\addplot[dt] table[S=10]{
0 3.2
-.05 3.05
.05 3.0
.05 2.8
-.05 2.6
.05 2.5
.14 2.35
-.14 2.4
0 2.25
-.14 2.0
.05 2.05
.14 1.9
-.14 1.7
0 1.6
.05 1.3
-.14 1.15
-.05 1.1
.05 1.0
-.05 .7
.05 .6
-.14 .5
0 .45
-.05 .3
.05 .25
-.28 0
-.14 0
0 0
.14 0
.28 0
};
\addplot[dt] table[S=11]{
0 1.78
0 1.3
.03 1.25
-.02 1.15
0 .5
-.14 .1
-.28 0
-.14 0
0 0
.14 0
.28 0
.07 0
-.07 0
};
\addplot[dt] table[S=12]{
0 5.73
0 4.62
0 4.04
0 3.4
-.14 3.05
-.05 3.0
.05 3.1
.14 3.0
-.14 2.9
0 2.8
.05 2.75
.14 2.95
-.05 2.3
0 2.0
-.14 1.95
.05 1.9
.14 1.85
-.05 1.5
.05 1.55
-.05 1.25
0 .8
0 .2
-.28 0
-.14 0
0 0
.14 0
.28 0
};
\addplot[dt] table[S=13]{
0 4.5
0 4.25
-.02 4.17
.02 4.12
0 3.85
0 3.6
0 3.45
0 3.2
0 2.8
0 2.6
0 2.35
0 2.2
0 2.0
0 1.8
0 1.55
-.05 1.2
.05 1.2
0 1.1
-.05 .85
.05 .8
0 .6
0 .55
-.28 0
-.14 0
0 0
.14 0
.28 0
.07 0
-.07 0
};
\addplot[dt] table[S=14]{
0 .8
-.14 0
.14 0
};
\addplot[dt] table[S=15]{
0 6.0
-.05 2.6
.1 2.5
-.05 2.4
-.14 .3
.1 .35
-.28 0
-.14 0
0 0
.14 0
.28 0
};
\addplot[dt] table[S=16]{
0 4.87
0 2.45
0 2.25
0 2.2
0 2.1
0 2.05
.05 1.95
0 1.85
.05 1.7
0 1.6
0 1.4
.05 1.2
0 1.15
0 .8
0 .3
-.14 .15
-.05 .1
-.28 0
-.14 0
0 0
.14 0
.28 0
.07 0
-.07 0
};
\addplot[dt] table[S=17]{
0 4.5
0 3.65
0 2.9
0 1.05
0 .4
-.14 0
.14 0
};
\addplot[dt] table[S=18]{
0 2.55
0 .8
-.14 0
.14 0
};
\addplot[dt] table[S=19]{
0 4.1
0 3.15
0 2.6
0 2.25
0 1.82
.02 1.78
-.02 1.68
0 1.4
0 1.25
0 1.0
0 .8
0 .5
.0 .3
-.28 0
-.14 0
0 0
.14 0
.28 0
};
\addplot[dt] table[S=20]{
0 3.4
0 2.27
0 1.25
0 .75
-.14 .35
.0 .4
.14 .35
-.14 .1
.0 .1
-.28 0
.14 0
.28 0
};
\addplot[dt] table[S=21]{
0 3.2
0 3.05
0 2.3
-.05 2.1
.05 2.0
0 1.55
0 1.4
0 1.0
0 .8
0 .55
.05 .4
-.05 .2
-.28 .1
-.14 0
0 0
.14 0
.28 0
};
\addplot[dt] table[S=22]{
0 3.25
0 2.8
0 2.45
0 2.1
0 1.9
0 1.5
0 1.05
.03 .9
0 .3
-.14 .1
-.28 0
-.14 0
0 0
.14 0
.28 0
};
\addplot[dt] table[S=23]{
0 3.68
0 2.9
0 2.65
-.05 2.25
.05 2.2
0 2.12
0 2.0
0 1.6
-.03 1.45
.03 1.3
0 1.2
-.03 1.05
.03 .95
0 .8
0 .6
0 .25
.14 .15
-.14 .05
-.28 0
-.14 0
0 0
.14 0
.28 0
};
\addplot[dt] table[S=24]{
0 3.15
0 2.85
0 2.55
-.05 2.4
.05 2.42
0 2.25
0 2.15
-.05 2.0
0 1.85
0 1.35
0 1.2
.03 1.1
-.03 1.0
0 .85
0 .7
0 .35
-.05 .2
.05 .15
-.28 0
-.14 0
0 0
.14 0
.28 0
};
\addplot[dt] table[S=25]{
0 3.85
0 2.7
-.05 2.65
0 1.4
-.05 1.3
.05 1.25
0 1.1
.03 1.0
0 .75
-.05 .6
.05 .55
-.28 0
-.14 0
0 0
.14 0
.28 0
};
\addplot[dt] table[S=26]{
0 7.15
0 7.08
.05 6.73
-.03 6.7
0 6.6
-.03 6.3
0 6.2
-.05 6.05
.05 6.03
-.14 5.55
0 5.6
.05 5.5
-.05 5.47
.05 5.3
-.05 5.25
0 5.1
0 4.75
-.14 3.75
.05 3.75
.14 3.65
-.14 3.5
0 3.45
.14 3.4
-.28 3.25
-.14 3.2
.05 3.2
.2 3.2
.28 3.15
0 2.95
.14 2.85
-.05 2.75
.14 2.75
-.14 2.4
.05 2.2
-.14 2.1
-.28 2.05
.1 1.95
-.05 1.95
.1 1.4
0 1.15
-.05 .4
.05 .3
0 .2
-.14 0
.14 0
};
\addplot[dt] table[S=27]{
0 2.6
0 2.4
0 2.05
0 1.9
-.03 1.65
0 1.35
0 1.15
0 .8
0 .6
-.28 0
-.14 0
0 0
.14 0
.28 0
};
\addplot[dt] table[S=28]{
0 6.85
0 5.85
0 4.55
0 4.2
0 3.7
0 3.5
.0 3.3
0 3.05
0 2.85
0 2.65
0 2.25
0 2.0
0 1.6
0 1.5
0 1.35
0 1.2
0 1.0
0 .8
0 .6
-.05 .4
.05 .35
0 .15
-.28 0
-.14 0
0 0
.14 0
.28 0
.07 0
-.07 0
};
\addplot[dt] table[S=29]{
0 4.05
0 3.9
0 3.1
0 2.95
0 2.45
.0 2.1
0 1.95
-.05 1.3
.05 1.25
-.14 1.0
.05 1.1
0 .85
.14 .9
-.05 .6
.14 .3
-.14 .1
-.28 0
-.14 0
0 0
.14 0
};
\addplot[dt] table[S=30]{
0 7.0
0 5.25
0 3.0
-.03 2.35
.05 2.2
-.05 1.9
0 1.65
0 1.35
-.05 .6
.05 .45
-.28 0
-.14 0
0 0
.14 0
.28 0
};
\addplot[dt] table[S=31]{
0 5.7
0 4.4
0 3.9
0 3.1
0 2.95
0 2.4
0 2.3
0 1.85
0 1.75
0 1.35
0 1.1
0 1.0
-.05 .7
.05 .65
.05 .4
-.14 .1
-.28 0
-.14 0
0 0
.14 0
.28 0
};
\addplot[dt] table[S=32]{
0 4.1
0 3.1
0 2.45
-.14 1.75
.14 1.7
0 1.25
-.14 0
.14 0
};
\addplot[dt] table[S=33]{
0 3.95
0 3.3
-.03 3.2
.03 3.1
0 1.75
0 1.55
0 1.4
0 1.25
0 1.1
0 1.0
0 .85
0 .7
0 .6
0 .45
0 .2
-.28 0
-.14 0
0 0
.14 0
.28 0
.07 0
-.07 0
};
\addplot[dt] table[S=34]{
0 3.2
0 2.85
0 2.4
0 1.1
.0 .85
-.03 .65
.03 .5
-.05 .4
.05 .35
-.28 0
-.14 0
0 0
.14 0
.28 0
.07 0
-.07 0
};
\addplot[fill=maov,fill opacity=.33,draw=none] coordinates {(-.645,143)(34.384,143)(34.384,319)(-.645,319)};
\addplot[maln,line width=1.6pt] coordinates {(-.645,143)(34.384,143)};
\end{axis}
% ---------- panel b
\begin{axis}[scale only axis,at={(56.3pt,-1703.2pt)},anchor=south west,width=613.3pt,height=612.5pt,
 xmin=-10,xmax=10,ymin=0,ymax=612.5,clip=false,axis line style={line width=.9pt},tick align=outside,
 xtick={-10,-5,-2,0,2,5,10},xticklabels={-10,-5,-2,0,2,5,10},
 ytick={0,121.1,242.2,308.2,421.2,534.2},yticklabels={0,2,4,5,10,15},
 xtick pos=bottom,ytick pos=left,major tick length=7pt,tick style={line width=.8pt,black},
 ticklabel style={font=\fontsize{19}{19}\selectfont},
 table/y expr={\fV{\thisrowno{1}}}]
\addplot[black,densely dotted,line width=.8pt] coordinates {(-2,0)(-2,612.5)};
\addplot[black,densely dotted,line width=.8pt] coordinates {(2,0)(2,612.5)};
\addplot[black,densely dotted,line width=.8pt] coordinates {(-10,121.1)(10,121.1)};
\addplot[fill=volg,draw=volg] table{
.03 0
.16 .49
.28 1.04
.36 1.5
.54 1.82
.98 1.86
1.56 1.66
2.14 1.47
2.72 1.15
3.01 .8
3.16 .49
2.58 .22
1.7 .04
.68 .01
};
\addplot[fill=volg,draw=volg] table{
-.03 0
-.15 .41
-.29 .88
-.48 1.31
-.77 1.66
-.99 1.54
-1.35 1.15
-1.94 .92
-2.52 .76
-2.95 .53
-2.52 .3
-1.64 .1
-.63 .01
};
\addplot[only marks,mark=*,mark size=2pt,volg] table{
1.85 5.06
1.34 4.9
1.44 4.9
1.48 4.79
1.92 4.17
-1.46 4.11
1.38 3.97
1.53 3.84
1.05 3.75
-1.03 3.63
-1.79 3.41
-.6 3.41
-.99 3.44
-1.72 3.18
-1.03 3.14
-.63 3.02
-1.94 2.83
-1.24 2.56
-.63 2.48
-.77 2.44
-.89 2.42
-.84 2.35
-1.43 2.4
-1.53 2.3
-1.76 2.17
-1.86 2.05
-1.47 2.09
-.77 2.05
-.48 2.05
-4.19 1.64
-3.93 1.27
-3.61 1.27
-3.39 1.37
-3.03 1.27
-4.08 .74
-3.39 .92
-3.46 .62
-3.35 .58
-3.03 .34
-3.14 1.91
-2.95 1.78
-2.75 1.62
-2.5 1.5
-2.45 1.3
-2.62 1.22
-2.3 1.42
-2.2 1.18
-2.05 1.3
-1.95 1.62
-1.8 1.4
-1.7 1.25
-1.55 1.75
-1.4 1.85
-1.35 1.5
-1.15 1.85
-1.05 1.7
-.95 1.95
-.55 1.85
-.7 1.9
-2.85 1.1
-2.7 .98
-2.55 1.05
-2.2 .95
-.6 1.7
-.85 1.8
-1.1 1.55
-1.25 1.4
-1.5 1.3
-1.6 1.5
-1.75 1.15
-1.9 1.2
-2.1 1.05
-2.3 .95
-2.45 .85
-2.7 .75
-2.85 .65
-3.05 .5
-3.2 .42
-2.9 .85
-2.6 .3
-2.3 .25
-2.05 .2
-1.8 .12
-.45 1.5
-.55 1.35
1.9 3.45
1.7 3.4
.85 3.32
1.25 3.35
1.6 3.28
1.9 3.2
.9 3.12
1.1 3.08
1.35 3.15
1.55 3.05
1.75 3.1
1.95 3.05
.6 2.95
.8 2.9
1.0 2.85
1.2 2.95
1.4 2.9
1.65 2.92
1.85 2.85
.65 2.72
.75 2.68
1.05 2.75
1.25 2.7
1.45 2.66
1.6 2.75
1.8 2.7
1.95 2.65
.5 2.55
.7 2.48
.9 2.52
1.1 2.55
1.3 2.45
1.5 2.5
1.7 2.52
1.9 2.45
.4 2.3
.6 2.35
.8 2.28
1.0 2.32
1.2 2.38
1.4 2.3
1.6 2.28
1.8 2.35
1.95 2.28
.35 2.08
.5 2.15
.75 2.1
.95 2.18
1.15 2.05
1.35 2.12
1.55 2.15
1.75 2.05
1.9 2.12
.45 2.45
.55 2.62
.62 2.25
.72 2.6
.78 2.42
.88 2.38
.92 2.65
1.02 2.22
1.08 2.42
1.12 2.68
1.18 2.18
1.28 2.58
1.32 2.25
1.42 2.42
1.48 2.82
1.52 2.35
1.62 2.62
1.68 2.2
1.72 2.4
1.82 2.55
1.88 2.78
1.92 2.38
1.98 2.9
.48 2.02
.68 2.02
.88 2.05
1.05 2.02
1.25 2.0
1.45 2.02
1.65 2.0
1.85 2.0
.55 1.9
.7 1.95
1.0 1.96
1.35 1.9
1.65 1.82
1.95 1.75
.42 1.95
.6 1.98
.85 1.93
1.2 1.92
1.5 1.95
1.8 1.88
2.1 1.95
2.3 1.9
2.5 1.97
2.75 1.85
3.0 1.92
3.2 1.95
3.4 1.85
3.7 1.95
4.0 1.9
4.3 1.93
4.6 1.88
4.95 1.8
5.4 1.92
5.65 1.72
2.05 1.75
2.25 1.68
2.45 1.78
2.65 1.7
2.9 1.72
3.1 1.6
3.35 1.7
3.6 1.75
3.85 1.65
4.1 1.62
4.4 1.55
4.7 1.7
4.85 1.45
5.2 1.6
2.35 1.55
2.6 1.45
2.85 1.5
3.15 1.4
3.45 1.48
3.7 1.4
3.95 1.35
4.25 1.3
4.55 1.22
4.72 1.0
4.45 .98
4.7 .85
2.9 1.3
3.2 1.2
3.4 1.15
3.6 1.1
3.85 .95
3.65 .8
3.3 .75
3.5 .62
3.05 1.05
2.2 1.85
2.4 1.65
2.55 1.85
2.75 1.65
2.95 1.85
3.05 1.55
3.25 1.75
3.45 1.6
3.55 1.85
3.8 1.8
3.75 1.55
4.05 1.78
4.2 1.5
2.15 1.6
2.3 1.45
2.5 1.3
2.7 1.35
2.95 1.15
3.25 .95
3.1 .7
3.3 .55
5.9 2.0
7.18 1.95
};
\addplot[only marks,mark=*,mark size=3.5pt,redd] table{
9.08 17.59
7.9 16.77
8.4 15.96
8.54 15.27
4.96 13.77
6.11 12.58
5.87 10.3
8.63 9.38
4.61 8.47
8.94 5.84
7.58 5.15
8.11 3.41
6.32 3.4
6.29 3.14
7.55 3.16
6.56 2.76
7.11 2.65
3.49 5.74
3.65 5.81
4.66 5.72
5.74 5.91
4.19 5.38
4.81 5.38
5.25 5.38
5.66 5.19
2.47 5.28
2.54 4.89
2.75 4.92
3.72 4.92
4.54 4.96
4.98 4.82
4.61 4.64
4.82 4.64
5.38 4.62
2.19 4.5
2.82 4.55
2.96 4.55
3.07 4.42
4.1 4.5
4.21 4.56
4.82 4.34
5.66 4.4
3.87 4.28
5.12 4.19
5.93 4.17
6.31 4.18
3.18 4.15
2.81 4.09
4.61 4.08
5.23 3.99
5.44 3.9
3.88 3.92
3.12 4.0
3.04 3.96
2.95 3.89
2.89 3.82
2.13 3.9
2.41 3.84
2.19 3.74
2.33 3.73
3.31 3.79
3.73 3.79
4.09 3.81
3.44 3.75
3.51 3.69
4.08 3.73
5.71 3.75
5.81 3.63
4.42 3.67
2.86 3.67
2.76 3.59
2.35 3.63
3.17 3.64
3.55 3.6
4.08 3.63
4.0 3.53
2.08 3.47
2.24 3.46
2.46 3.45
3.22 3.47
3.6 3.47
4.72 3.47
5.19 3.49
5.19 3.43
2.84 3.41
2.66 3.34
2.89 3.32
3.06 3.35
3.22 3.38
3.44 3.35
3.71 3.35
4.44 3.35
5.39 3.33
2.03 3.29
2.3 3.32
3.31 3.22
2.19 3.17
2.35 3.12
2.55 3.14
2.89 3.14
4.01 3.16
3.91 3.09
4.96 3.03
2.73 3.03
2.89 3.05
3.11 3.05
3.33 3.02
3.66 3.05
3.82 3.02
4.12 3.0
4.74 3.0
2.04 2.93
2.25 2.96
3.0 2.94
3.27 2.92
3.55 2.94
4.04 2.91
4.78 2.91
3.06 2.86
2.51 2.81
2.68 2.81
2.84 2.8
3.71 2.8
3.87 2.8
4.09 2.85
4.29 2.8
4.86 2.78
2.41 2.76
3.09 2.76
3.36 2.72
3.6 2.76
3.98 2.72
5.51 2.65
2.17 2.68
2.46 2.64
2.68 2.64
3.0 2.66
3.87 2.61
4.14 2.64
4.53 2.65
4.47 2.58
2.03 2.61
2.13 2.55
2.35 2.61
2.03 2.53
2.73 2.51
3.0 2.55
3.33 2.53
3.55 2.55
2.3 2.44
2.84 2.45
3.06 2.47
3.22 2.45
3.44 2.48
3.82 2.44
5.34 2.5
4.69 2.45
4.56 2.42
4.96 2.42
2.08 2.4
2.51 2.42
3.0 2.39
3.33 2.37
3.73 2.36
5.07 2.29
4.39 2.3
3.76 2.31
2.04 2.32
2.35 2.3
2.6 2.31
2.84 2.32
3.17 2.32
3.49 2.31
5.72 2.25
5.88 2.2
4.52 2.21
3.87 2.24
2.19 2.2
2.46 2.21
2.73 2.22
3.11 2.21
3.33 2.2
2.03 2.14
2.3 2.13
2.57 2.14
2.84 2.15
3.17 2.14
3.66 2.09
4.14 2.09
4.58 2.09
4.83 2.17
5.29 2.11
2.05 2.03
2.19 2.06
2.35 2.07
2.62 2.03
2.95 2.04
3.22 2.03
3.38 2.06
4.63 2.01
3.06 2.0
2.68 2.0
};
\addplot[only marks,mark=*,mark size=3.3pt,blue] table{
-2.85 2.86
-3.16 2.53
-2.97 2.13
-2.05 2.67
-2.07 2.03
};
\addplot[only marks,mark=*,mark size=4.2pt,gogr] table{
5.36 2.81
4.06 2.24
};
\end{axis}
% ---------- panel c
\begin{axis}[scale only axis,at={(935.7pt,-1704pt)},anchor=south west,width=236pt,height=613pt,
 xmin=0,xmax=4.214,ymin=-.807,ymax=19.807,y dir=reverse,clip=false,axis line style={line width=.9pt},
 xtick={0,1,2,3,4},xticklabels={0,1,2,3,4},xtick pos=bottom,tick align=outside,major tick length=5pt,
 xticklabel style={font=\fontsize{15}{15}\selectfont},tick style={black,line width=.8pt},
 ytick={0,...,19},ytick style={draw=none},
 yticklabel style={align=right,font=\fontsize{10.8}{11.5}\selectfont,inner sep=0pt,xshift=-5.5pt,anchor=east},
 yticklabels={{central nervous system\\development (GO:0007417)},{cell morphogenesis involved\\in differentiation (GO:0000904)},{extracellular matrix organization\\(GO:0030198)},{nervous system development\\(GO:0007399)},{cell-cell adhesion via plasma-membrane\\adhesion molecules (GO:0098742)},{protein localization to cilium\\(GO:0061512)},{heterophilic cell-cell adhesion via plasma membrane\\cell adhesion molecules (GO:0007157)},{peptidyl-tyrosine phosphorylation\\(GO:0018108)},{glial cell differentiation\\(GO:0010001)},{regulation of neuron differentiation\\(GO:0045664)},{endochondral ossification\\(GO:0001958)},{regulation of MAPK cascade\\(GO:0043408)},{transmembrane receptor protein tyrosine\\kinase signaling pathway (GO:0007169)},{cell-matrix adhesion\\(GO:0007160)},{keratan sulfate biosynthetic process\\(GO:0018146)},{negative regulation of endothelial\\cell proliferation (GO:0001937)},{substrate adhesion-dependent\\cell spreading (GO:0034446)},{axonogenesis\\(GO:0007409)},{response to axon injury\\(GO:0048678)},{rhodopsin mediated signaling pathway\\(GO:0016056)}}]
\addplot[xbar,bar shift=0pt,bar width=21.5pt,fill=gogr,draw=black!30,line width=1pt] coordinates {(3.988,0)(2.696,3)(2.423,8)(2.369,9)(2.119,17)(2.083,18)};
\addplot[xbar,bar shift=0pt,bar width=21.5pt,fill=goye,draw=black!30,line width=1pt] coordinates {(3.161,2)(2.655,4)(2.53,6)(2.244,13)(2.119,16)};
\addplot[xbar,bar shift=0pt,bar width=21.5pt,fill=white,draw=black!30,line width=1pt] coordinates {(3.226,1)(2.583,5)(2.482,7)(2.369,10)(2.357,11)(2.333,12)(2.244,14)(2.19,15)(2.083,19)};
\end{axis}
% ---------- annotations
\node[inner sep=0pt,font=\bfseries\fontsize{25}{25}\selectfont] at (52pt,-11pt) {a};
\node[inner sep=0pt,font=\bfseries\fontsize{25}{25}\selectfont] at (17.5pt,-1069pt) {b};
\node[inner sep=0pt,font=\bfseries\fontsize{25}{25}\selectfont] at (795.7pt,-1071pt) {c};
\node[inner sep=0pt,font=\itshape\fontsize{17.2}{17.2}\selectfont] at (241.5pt,-8pt) {Hematopoietic cancers};
\node[inner sep=0pt,font=\itshape\fontsize{17.2}{17.2}\selectfont] at (714.8pt,-8pt) {Solid cancers};
\T{116.7}{35}{13}{n=}
\foreach \x/\t in {137.4/4,165.3/35,192.5/9,220.8/28,246.5/8,274.8/39,303.1/14,329.5/31,373.9/9,402.2/33,423.7/16,457.3/33,483.7/40,511.7/3,539.2/10,564.5/37,592.4/8,620.4/4,649.5/25,675.2/11,702.3/25,730.3/23,756.7/51,778.2/44,812.6/27,839.4/54,866.6/50,893.4/76,920.2/33,942.5/15,974.2/37,1001.4/8,1029.3/59,1056.5/26}{\T{\x}{35}{13}{\t}}
\TR{72.7}{203}{17.2}{\# of coding mutations}
\TR{69.6}{526.7}{17.2}{HLA-class I score}
\TR{68.1}{848}{17.2}{HLA-class II score}
% axis breaks
\draw[black!70,line width=.7pt] (114.1pt,-555.7pt) -- (119.8pt,-555.7pt);
\draw[black,line width=.9pt] (114.5pt,-909.3pt) -- (124pt,-909.3pt) (114.5pt,-912.6pt) -- (124pt,-912.6pt);
\fill[white] (48pt,-1393.6pt) rectangle (64pt,-1397.6pt);
\draw[black,line width=.9pt] (50pt,-1393.6pt) -- (63pt,-1393.6pt) (50pt,-1397.6pt) -- (63pt,-1397.6pt);
% red arrow
\draw[-{Triangle[width=15pt,length=13pt]},draw={rgb,255:red,255;green,77;blue,94},line width=6pt] (862.4pt,-741.7pt) -- (848.1pt,-768.3pt);
% volcano labels
\foreach \x/\y/\t in {606.2/1109.6/HLA-DRA,570/1129.4/HLA-DPA1,596.8/1149.7/CD74,629.9/1174.7/HLA-DRB1,551.7/1196.9/HLA-DMA,574/1225.6/CIIT A,520/1264.3/HLA-DMB,579.4/1278/HLA-DPB1,627.2/1309.6/HLA-DRB5,633/1363.4/HLA-DRB6,604.9/1405.4/HLA-DQB1,618.7/1485.7/HLA-DOA,588.4/1504/HLA-DQB2,629/1517.3/HLA-DQA1,600.4/1530.5/HLA-DQA2}{\T{\x}{\y}{12.6}{\t}}
\T{562.5}{1554.5}{15}{\textcolor{grlab}{NGFR}}
\T{567.8}{1573.9}{14.8}{\textcolor{grlab}{SOX2}}
\draw[-{Stealth[length=6pt,width=5pt]},black,line width=.8pt] (551.3pt,-1546pt) to[bend right=30] (533.5pt,-1532pt);
\draw[-{Stealth[length=6pt,width=5pt]},black,line width=.8pt] (545.5pt,-1578pt) to[bend left=12] (494.6pt,-1569.7pt);
\T{366}{1756.5}{23}{logFC}
\TR{13.4}{1395}{22.5}{-LOG(adj pVal)}
\T{180}{1770}{16.6}{enriched in}
\T{552}{1770}{16.6}{enriched in}
\T{179.5}{1791.5}{16.6}{HLA-class II\raisebox{.42em}{\fontsize{11.5}{11.5}\selectfont neg} Mel-CLs}
\T{551.7}{1791.5}{16.6}{HLA-class II\raisebox{.42em}{\fontsize{11.5}{11.5}\selectfont pos} Mel-CLs}
\draw[-{Stealth[length=7pt,width=6pt]},line width=.9pt] (258.9pt,-1756pt) -- (101.8pt,-1756pt);
\draw[-{Stealth[length=7pt,width=6pt]},line width=.9pt] (470.5pt,-1756pt) -- (628pt,-1756pt);
\T{1056.7}{1741.7}{19.6}{-LOG(pVal)}
\filldraw[fill={rgb,255:red,0;green,150;blue,80},draw=black!25,line width=1pt] (795.7pt,-1774.3pt) rectangle (818.7pt,-1797.3pt);
\filldraw[fill={rgb,255:red,255;green,192;blue,0},draw=black!25,line width=1pt] (938.7pt,-1774.3pt) rectangle (962.3pt,-1797.3pt);
\TL{825.3}{1778.3}{13.8}{Nervous system}
\TL{825.3}{1794.3}{13.8}{differentiation}
\TL{969}{1778.3}{13.8}{Remodeling of cell-cell and cell–}
\TL{969}{1794.3}{13.8}{extracellular matrix interactions}
\end{tikzpicture}
\end{document}
